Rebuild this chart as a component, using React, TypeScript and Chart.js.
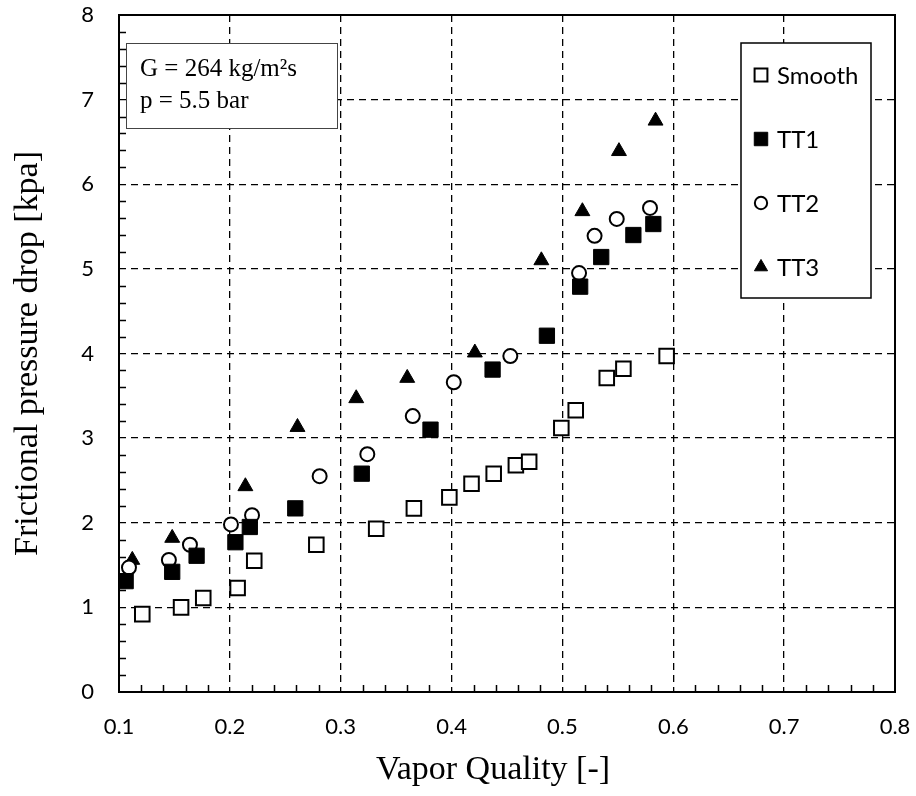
import React, { useEffect, useRef } from 'react';
import { Chart, registerables } from 'chart.js';
import { drawPoint } from 'chart.js/helpers';

Chart.register(...registerables);

const xTicks = [0.1, 0.2, 0.3, 0.4, 0.5, 0.6, 0.7, 0.8];
const xTickLabels = ['0.1', '0.2', '0.3', '0.4', '0.5', '0.6', '0.7', '0.8'];
const yTicks = [0, 1, 2, 3, 4, 5, 6, 7, 8];
const yTickLabels = ['0', '1', '2', '3', '4', '5', '6', '7', '8'];

const seriesNames = ['Smooth', 'TT1', 'TT2', 'TT3'];

const smoothX = [0.121, 0.156, 0.176, 0.207, 0.222, 0.278, 0.332, 0.366, 0.398, 0.418, 0.438, 0.458, 0.470, 0.499, 0.512, 0.540, 0.555, 0.594];
const smoothY = [0.92, 1.00, 1.11, 1.23, 1.55, 1.74, 1.93, 2.17, 2.30, 2.46, 2.58, 2.68, 2.72, 3.12, 3.33, 3.71, 3.82, 3.97];

const tt1X = [0.106, 0.148, 0.170, 0.205, 0.218, 0.259, 0.319, 0.381, 0.437, 0.486, 0.516, 0.535, 0.564, 0.582];
const tt1Y = [1.31, 1.42, 1.61, 1.77, 1.95, 2.17, 2.58, 3.10, 3.81, 4.21, 4.79, 5.14, 5.40, 5.53];

const tt2X = [0.109, 0.145, 0.164, 0.201, 0.220, 0.281, 0.324, 0.365, 0.402, 0.453, 0.515, 0.529, 0.549, 0.579];
const tt2Y = [1.47, 1.56, 1.74, 1.98, 2.09, 2.55, 2.81, 3.26, 3.66, 3.97, 4.95, 5.39, 5.59, 5.72];

const tt3X = [0.112, 0.148, 0.214, 0.261, 0.314, 0.360, 0.421, 0.481, 0.518, 0.551, 0.584];
const tt3Y = [1.56, 1.82, 2.43, 3.13, 3.47, 3.71, 4.01, 5.10, 5.68, 6.39, 6.75];

const xTitle = 'Vapor Quality [-]';
const yTitle = 'Frictional pressure drop [kpa]';
const noteLines = ['G = 264 kg/m²s', 'p = 5.5 bar'];

const toPoints = (xs: number[], ys: number[]) => xs.map((x, i) => ({ x, y: ys[i] }));

const SANS = 'Lato, "Open Sans", sans-serif';
const SERIF = '"Liberation Serif", "Times New Roman", serif';

const decorPlugin = {
  id: 'decor',
  afterDraw(chart: any) {
    const ctx = chart.ctx as CanvasRenderingContext2D;
    const { left, right, top, bottom } = chart.chartArea;
    const xs = chart.scales.x;
    const ys = chart.scales.y;
    ctx.save();

    // minor ticks (inside)
    ctx.strokeStyle = '#000';
    ctx.lineWidth = 1.5;
    ctx.beginPath();
    for (let i = 1; i < 35; i++) {
      if (i % 5 === 0) continue;
      const px = Math.round(xs.getPixelForValue(0.1 + i * 0.02)) + 0.5;
      ctx.moveTo(px, bottom);
      ctx.lineTo(px, bottom - 7);
    }
    for (let j = 1; j < 40; j++) {
      if (j % 5 === 0) continue;
      const py = Math.round(ys.getPixelForValue(j * 0.2)) + 0.5;
      ctx.moveTo(left, py);
      ctx.lineTo(left + 7, py);
    }
    ctx.stroke();

    // frame
    ctx.lineWidth = 2;
    ctx.strokeRect(left, top, right - left, bottom - top);

    // note box
    const nx = left + 7, ny = top + 28, nw = 211, nh = 85;
    ctx.fillStyle = '#fff';
    ctx.fillRect(nx, ny, nw, nh);
    ctx.strokeStyle = '#444';
    ctx.lineWidth = 1;
    ctx.strokeRect(nx + 0.5, ny + 0.5, nw, nh);
    ctx.fillStyle = '#000';
    ctx.font = '25px ' + SERIF;
    ctx.textAlign = 'left';
    ctx.textBaseline = 'middle';
    noteLines.forEach((t, i) => ctx.fillText(t, nx + 14, ny + 26 + i * 32));

    // legend box
    const lx = right - 154, ly = top + 28, lw = 130, lh = 255;
    ctx.fillStyle = '#fff';
    ctx.fillRect(lx, ly, lw, lh);
    ctx.strokeStyle = '#000';
    ctx.lineWidth = 1.5;
    ctx.strokeRect(lx, ly, lw, lh);
    ctx.font = '24px ' + SANS;
    chart.data.datasets.forEach((ds: any, i: number) => {
      const cy = ly + 32 + i * 64;
      ctx.fillStyle = ds.backgroundColor;
      ctx.strokeStyle = ds.borderColor;
      ctx.lineWidth = ds.borderWidth;
      drawPoint(ctx, { pointStyle: ds.pointStyle, radius: ds.pointRadius * 0.88, rotation: 0, borderWidth: ds.borderWidth }, lx + 20, cy);
      ctx.fillStyle = '#000';
      ctx.textBaseline = 'middle';
      ctx.fillText(ds.label, lx + 36, cy + 1);
    });

    // x title
    ctx.font = '34px ' + SERIF;
    ctx.textAlign = 'center';
    ctx.textBaseline = 'middle';
    ctx.fillStyle = '#000';
    ctx.fillText(xTitle, (left + right) / 2 - 14, chart.height - 26);

    ctx.restore();
  },
};

const zeroPad = (s: any) => {
  s.paddingTop = 0;
  s.paddingBottom = 0;
  s.paddingLeft = 0;
  s.paddingRight = 0;
};

export default function App() {
  const ref = useRef<HTMLCanvasElement | null>(null);
  useEffect(() => {
    if (!ref.current) return;
    const chart = new Chart(ref.current, {
      type: 'scatter',
      data: {
        datasets: [
          { label: seriesNames[0], data: toPoints(smoothX, smoothY), pointStyle: 'rect', pointRadius: 10.3, pointHoverRadius: 10.3, backgroundColor: '#fff', borderColor: '#000', borderWidth: 2, order: 4 },
          { label: seriesNames[1], data: toPoints(tt1X, tt1Y), pointStyle: 'rect', pointRadius: 10.8, pointHoverRadius: 10.8, backgroundColor: '#000', borderColor: '#000', borderWidth: 1, order: 1 },
          { label: seriesNames[2], data: toPoints(tt2X, tt2Y), pointStyle: 'circle', pointRadius: 7, pointHoverRadius: 7, backgroundColor: '#fff', borderColor: '#000', borderWidth: 2, order: 2 },
          { label: seriesNames[3], data: toPoints(tt3X, tt3Y), pointStyle: 'triangle', pointRadius: 8.6, pointHoverRadius: 8.6, backgroundColor: '#000', borderColor: '#000', borderWidth: 1, order: 3 },
        ] as any,
      },
      options: {
        responsive: false,
        animation: false,
        layout: { padding: { top: 15, right: 21, left: 0, bottom: 0 } },
        plugins: { legend: { display: false }, tooltip: { enabled: false } },
        scales: {
          x: {
            type: 'linear',
            min: 0.1,
            max: 0.8,
            afterBuildTicks: (s: any) => { s.ticks = xTicks.map((value) => ({ value })); },
            afterFit: (s: any) => { s.height = 104; zeroPad(s); },
            ticks: {
              callback: (_v: any, i: number) => xTickLabels[i],
              font: { family: SANS, size: 22 },
              color: '#000',
              padding: 22,
              maxRotation: 0,
              autoSkip: false,
            },
            grid: { color: '#000', lineWidth: 1.3, drawTicks: false },
            border: { display: false, dash: [7, 5] },
          },
          y: {
            type: 'linear',
            min: 0,
            max: 8,
            afterBuildTicks: (s: any) => { s.ticks = yTicks.map((value) => ({ value })); },
            afterFit: (s: any) => { s.width = 119; zeroPad(s); },
            ticks: {
              callback: (_v: any, i: number) => yTickLabels[i],
              font: { family: SANS, size: 22 },
              color: '#000',
              padding: 25,
              autoSkip: false,
            },
            grid: { color: '#000', lineWidth: 1.3, drawTicks: false },
            border: { display: false, dash: [7, 5] },
            title: {
              display: true,
              text: yTitle,
              font: { family: SERIF, size: 34, weight: 'normal' },
              color: '#000',
              padding: { top: 8, bottom: 0 },
            },
          },
        },
      },
      plugins: [decorPlugin],
    });
    return () => chart.destroy();
  }, []);

  return (
    <div style={{ position: 'fixed', left: 0, top: 0, width: 916, height: 796, background: '#fff' }}>
      <canvas ref={ref} width={916} height={796} style={{ display: 'block' }} />
    </div>
  );
}
